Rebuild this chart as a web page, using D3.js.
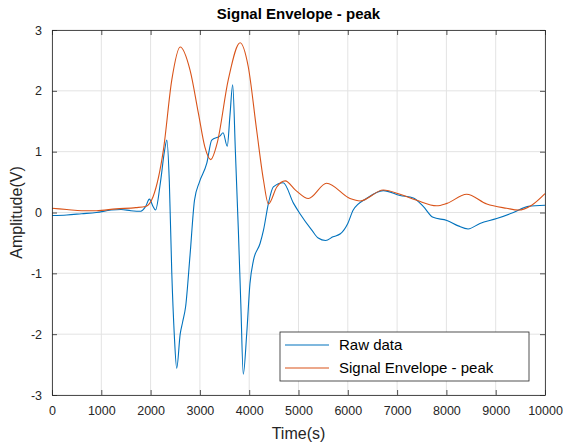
<!DOCTYPE html>
<html>
<head>
<meta charset="utf-8">
<script src="https://cdn.jsdelivr.net/npm/d3@7"></script>
<style>
  body { margin: 0; background: #fff; }
  text { font-family: "Liberation Sans", Arial, sans-serif; }
</style>
</head>
<body>
<svg id="chart"></svg>
<script>
const xTicks = [0, 1000, 2000, 3000, 4000, 5000, 6000, 7000, 8000, 9000, 10000];
const yTicks = [-3, -2, -1, 0, 1, 2, 3];

const rawTime = [0, 300, 600, 900, 1200, 1400, 1600, 1800, 1900, 1975, 2050, 2100, 2200, 2280, 2330,
  2380, 2430, 2480, 2530, 2600, 2650, 2710, 2800, 2890, 2990, 3140, 3240, 3410, 3470, 3555, 3610,
  3665, 3720, 3780, 3830, 3880, 3950, 4015, 4085, 4220, 4290, 4390, 4490, 4690, 4900, 5030, 5270,
  5400, 5550, 5700, 5850, 6000, 6110, 6380, 6720, 7060, 7330, 7530, 7730, 8010, 8240, 8440, 8680,
  9020, 9360, 9660, 10000];
const rawValue = [-0.05, -0.04, -0.02, 0.0, 0.04, 0.05, 0.03, 0.02, 0.1, 0.22, 0.1, 0.04, 0.5, 1.0, 1.19,
  0.5, -1.0, -2.0, -2.56, -2.0, -1.8, -1.55, -0.7, 0.2, 0.5, 0.81, 1.19, 1.26, 1.31, 1.09, 1.6,
  2.1, 1.0, -0.29, -1.5, -2.66, -1.99, -1.17, -0.79, -0.51, -0.29, 0.15, 0.42, 0.49, 0.15, -0.02, -0.29,
  -0.42, -0.46, -0.4, -0.35, -0.18, 0.04, 0.23, 0.36, 0.28, 0.24, 0.1, -0.08, -0.13, -0.22, -0.27, -0.18,
  -0.1, 0.0, 0.1, 0.12];

const envTime = [0, 300, 600, 900, 1300, 1700, 1900, 2050, 2260, 2430, 2600, 2800, 2970, 3100, 3220,
  3350, 3575, 3815, 3980, 4150, 4290, 4390, 4560, 4730, 4950, 5200, 5570, 6045, 6250, 6720, 7060,
  7400, 7800, 8010, 8410, 8820, 9220, 9460, 9730, 10000];
const envValue = [0.07, 0.05, 0.03, 0.03, 0.06, 0.08, 0.1, 0.26, 1.03, 2.18, 2.72, 2.34, 1.63, 1.08, 0.87,
  1.14, 2.18, 2.79, 2.4, 1.36, 0.53, 0.14, 0.42, 0.52, 0.36, 0.23, 0.48, 0.23, 0.19, 0.37, 0.3,
  0.2, 0.11, 0.15, 0.3, 0.14, 0.07, 0.04, 0.12, 0.31];

const width = 563;
const height = 443;
const margin = { top: 30, right: 18, bottom: 48, left: 52 };

const svg = d3.select('#chart').attr('width', width).attr('height', height);

const x = d3.scaleLinear().domain([0, 10000]).range([margin.left, width - margin.right]);
const y = d3.scaleLinear().domain([-3, 3]).range([height - margin.bottom, margin.top]);

// grid
svg.append('g')
  .selectAll('line')
  .data(xTicks)
  .join('line')
  .attr('x1', d => x(d)).attr('x2', d => x(d))
  .attr('y1', y(-3)).attr('y2', y(3))
  .attr('stroke', '#e3e3e3');
svg.append('g')
  .selectAll('line')
  .data(yTicks)
  .join('line')
  .attr('x1', x(0)).attr('x2', x(10000))
  .attr('y1', d => y(d)).attr('y2', d => y(d))
  .attr('stroke', '#e3e3e3');

const line = d3.line().curve(d3.curveMonotoneX);

svg.append('path')
  .attr('d', line(rawTime.map((t, i) => [x(t), y(rawValue[i])])))
  .attr('fill', 'none')
  .attr('stroke', '#0072BD')
  .attr('stroke-width', 1.1);

svg.append('path')
  .attr('d', line(envTime.map((t, i) => [x(t), y(envValue[i])])))
  .attr('fill', 'none')
  .attr('stroke', '#D95319')
  .attr('stroke-width', 1.1);

// axes (ticks inward)
const axisColor = '#262626';
const tickSize = 5;
const plain = d => String(d);

const xAxis = svg.append('g')
  .attr('transform', `translate(0,${y(-3)})`)
  .call(d3.axisBottom(x).tickValues(xTicks).tickFormat(plain)
    .tickSizeInner(-tickSize).tickSizeOuter(0).tickPadding(9));
const yAxis = svg.append('g')
  .attr('transform', `translate(${x(0)},0)`)
  .call(d3.axisLeft(y).tickValues(yTicks).tickFormat(plain)
    .tickSizeInner(-tickSize).tickSizeOuter(0).tickPadding(10));
svg.append('g')
  .attr('transform', `translate(0,${y(3)})`)
  .call(d3.axisTop(x).tickValues(xTicks).tickSizeInner(-tickSize).tickSizeOuter(0).tickFormat(''));
svg.append('g')
  .attr('transform', `translate(${x(10000)},0)`)
  .call(d3.axisRight(y).tickValues(yTicks).tickSizeInner(-tickSize).tickSizeOuter(0).tickFormat(''));

svg.selectAll('.domain, .tick line').attr('stroke', axisColor).attr('stroke-width', 0.8);
svg.selectAll('.tick text')
  .attr('fill', axisColor)
  .style('font-size', '12.5px')
  .style('font-family', '"Liberation Sans", Arial, sans-serif');
xAxis.selectAll('.tick text').attr('dy', '0.85em');

// title + labels
svg.append('text')
  .attr('x', (x(0) + x(10000)) / 2)
  .attr('y', 19)
  .attr('text-anchor', 'middle')
  .style('font-size', '15px')
  .style('font-weight', 'bold')
  .attr('fill', '#000')
  .text('Signal Envelope - peak');

svg.append('text')
  .attr('x', (x(0) + x(10000)) / 2)
  .attr('y', 439)
  .attr('text-anchor', 'middle')
  .style('font-size', '16px')
  .attr('fill', axisColor)
  .text('Time(s)');

svg.append('text')
  .attr('transform', `translate(22,${y(0)}) rotate(-90)`)
  .attr('text-anchor', 'middle')
  .style('font-size', '16px')
  .attr('fill', axisColor)
  .text('Amplitude(V)');

// legend
const legend = svg.append('g').attr('transform', 'translate(280,332)');
legend.append('rect')
  .attr('width', 249).attr('height', 49)
  .attr('fill', '#fff')
  .attr('stroke', axisColor)
  .attr('stroke-width', 0.8);

const legendItems = [
  { name: 'Raw data', color: '#0072BD' },
  { name: 'Signal Envelope - peak', color: '#D95319' },
];
const items = legend.selectAll('g.item')
  .data(legendItems)
  .join('g')
  .attr('class', 'item')
  .attr('transform', (d, i) => `translate(0,${13 + i * 23})`);
items.append('line')
  .attr('x1', 5).attr('x2', 49)
  .attr('stroke', d => d.color)
  .attr('stroke-width', 1.1);
items.append('text')
  .attr('x', 59)
  .attr('dy', '0.35em')
  .style('font-size', '15px')
  .attr('fill', '#000')
  .text(d => d.name);
</script>
</body>
</html>
